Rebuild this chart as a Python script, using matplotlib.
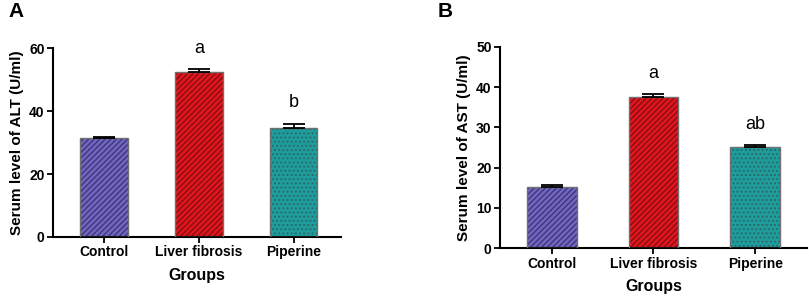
import matplotlib
matplotlib.use("Agg")
import matplotlib.pyplot as plt
import numpy as np

plt.rcParams['font.family'] = ['Liberation Sans', 'DejaVu Sans']

groups = ["Control", "Liver fibrosis", "Piperine"]
alt_mean = [31.4, 52.3, 34.7]
alt_err = [0.4, 1.0, 1.2]
alt_letters = ["", "a", "b"]
ast_mean = [15.3, 37.6, 25.0]
ast_err = [0.4, 0.7, 0.6]
ast_letters = ["", "a", "ab"]

face = ["#7066c0", "#e4141c", "#1f9c9c"]
hatch_col = ["#3a3272", "#7a1014", "#2a6a6a"]
hatches = ["//////", "//////", "...."]

plt.rcParams['hatch.linewidth'] = 0.9

fig = plt.figure(figsize=(8.09, 2.98), dpi=100)
axA = fig.add_axes([0.0655, 0.2047, 0.356, 0.634])
axB = fig.add_axes([0.618, 0.1668, 0.3795, 0.6765])

def panel(ax, means, errs, letters, ylim, yticks, ylabel, xlim, width, tick_pad_label, letter_off):
    x = np.arange(len(groups))
    for i in range(len(groups)):
        ax.bar(x[i], means[i], width=width, color=face[i], edgecolor=hatch_col[i],
               hatch=hatches[i], linewidth=0, zorder=2)
        ax.bar(x[i], means[i], width=width, color='none', edgecolor='#707070',
               linewidth=1.0, zorder=3)
    ax.errorbar(x, means, yerr=[np.zeros(len(errs)), errs], fmt='none',
                ecolor='black', elinewidth=1.3, capsize=8, capthick=1.3, zorder=4)
    for i, t in enumerate(letters):
        if t:
            ax.text(x[i], means[i] + errs[i] + letter_off, t, ha='center', va='bottom',
                    fontsize=13)
    ax.set_ylim(*ylim)
    ax.set_xlim(*xlim)
    ax.set_yticks(yticks)
    ax.set_xticks(x)
    ax.set_xticklabels(groups, fontsize=10, fontweight='bold')
    for lab in ax.get_yticklabels():
        lab.set_fontsize(10)
        lab.set_fontweight('bold')
    ax.set_ylabel(ylabel, fontsize=11, fontweight='bold')
    ax.set_xlabel("Groups", fontsize=11.5, fontweight='bold', labelpad=tick_pad_label)
    for s in ['top', 'right']:
        ax.spines[s].set_visible(False)
    for s in ['left', 'bottom']:
        ax.spines[s].set_linewidth(1.5)
    ax.tick_params(axis='both', direction='out', length=4, width=1.3, pad=2)

panel(axA, alt_mean, alt_err, alt_letters, (0, 60), [0, 20, 40, 60],
      "Serum level of ALT (U/ml)", (-0.54, 2.5), 0.5, 6, 4)
panel(axB, ast_mean, ast_err, ast_letters, (0, 50), [0, 10, 20, 30, 40, 50],
      "Serum level of AST (U/ml)", (-0.51, 2.51), 0.49, 6, 3)

fig.text(0.010, 0.96, "A", fontsize=15, fontweight='bold', va='center', ha='left')
fig.text(0.541, 0.96, "B", fontsize=15, fontweight='bold', va='center', ha='left')

fig.savefig("out.png", dpi=100)
